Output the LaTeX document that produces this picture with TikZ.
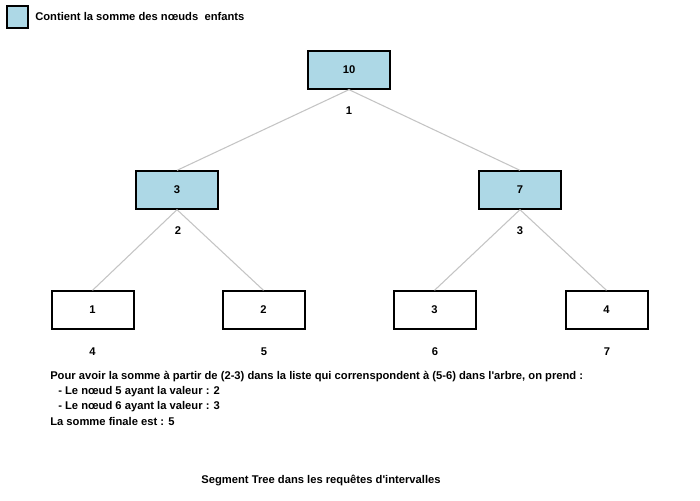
\documentclass[tikz,border=0pt]{standalone}
\usepackage{fontspec}
\setmainfont{Liberation Sans}[Ligatures=TeXOff]
\begin{document}
\begin{tikzpicture}[x=0.75pt,y=-0.75pt,
  font=\fontsize{8.4}{10}\selectfont\bfseries,
  tnode/.style={draw=black,line width=1.5pt,minimum width=61.5pt,minimum height=28pt,inner sep=0pt},
  filled/.style={tnode,fill=lbl},
  plain/.style={tnode,fill=white},
  edge/.style={draw=edgegray,line width=0.8pt},
  idx/.style={inner sep=0pt},
  txt/.style={anchor=west,inner sep=0pt}]
\definecolor{lbl}{HTML}{ADD8E6}
\definecolor{edgegray}{HTML}{C4C4C4}
\useasboundingbox (0,0) rectangle (700,500);
% legend
\node[draw=black,line width=1.5pt,fill=lbl,minimum width=16pt,minimum height=16pt,inner sep=0pt] (leg) at (17.5,17) {};
\node[txt] (legt) at (35,16.5) {Contient la somme des nœuds\ \ enfants};
% tree nodes
\node[filled] (n1) at (349,70) {10};
\node[filled] (n2) at (177,190) {3};
\node[filled] (n3) at (520,190) {7};
\node[plain] (n4) at (92.5,310) {1};
\node[plain] (n5) at (263.5,310) {2};
\node[plain] (n6) at (434.5,310) {3};
\node[plain] (n7) at (606.5,310) {4};
% edges
\draw[edge] (n1.south) -- (n2.north);
\draw[edge] (n1.south) -- (n3.north);
\draw[edge] (n2.south) -- (n4.north);
\draw[edge] (n2.south) -- (n5.north);
\draw[edge] (n3.south) -- (n6.north);
\draw[edge] (n3.south) -- (n7.north);
% indices
\node[idx] (i1) at (349,110.5) {1};
\node[idx] (i2) at (178,230.5) {2};
\node[idx] (i3) at (520,230.5) {3};
\node[idx] (i4) at (92.5,351.5) {4};
\node[idx] (i5) at (264,351.5) {5};
\node[idx] (i6) at (435,351.5) {6};
\node[idx] (i7) at (607,351.5) {7};
% explanation
\node[txt] (e1) at (50,376.5) {Pour avoir la somme à partir de (2-3) dans la liste qui correnspondent à (5-6) dans l'arbre, on prend :};
\node[txt] (e2) at (58,391.5) {- Le nœud 5 ayant la valeur : 2};
\node[txt] (e3) at (58,406.5) {- Le nœud 6 ayant la valeur : 3};
\node[txt] (e4) at (50,421.5) {La somme finale est : 5};
% title
\node[idx] (title) at (321,480.5) {Segment Tree dans les requêtes d'intervalles};
\end{tikzpicture}
\end{document}
